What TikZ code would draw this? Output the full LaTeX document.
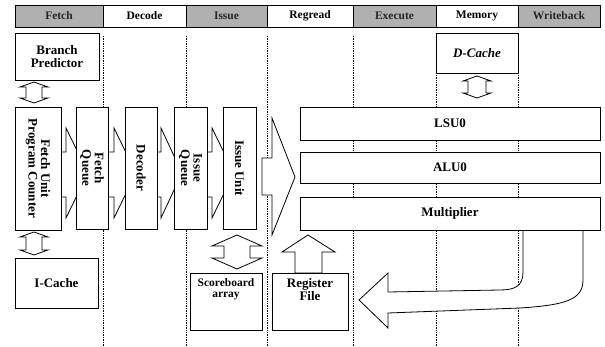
\documentclass[tikz,border=0pt]{standalone}
\usepackage{fontspec}
\setmainfont{Liberation Serif}
\newcommand\vdarrow[6]{\draw[blk] (#1,#2) -- ({#1+#5},{#2+#6}) -- ({#1+#4},{#2+#6}) -- ({#1+#4},{#3-#6}) -- ({#1+#5},{#3-#6}) -- (#1,#3) -- ({#1-#5},{#3-#6}) -- ({#1-#4},{#3-#6}) -- ({#1-#4},{#2+#6}) -- ({#1-#5},{#2+#6}) -- cycle;}
\newcommand\chevron[3]{\draw[blk] (#1,152) -- (#2,152) -- (#2,128) -- (#3,173) -- (#2,218) -- (#2,197) -- (#1,197) -- cycle;}
\begin{document}
\begin{tikzpicture}[x=1pt,y=-1pt,
 box/.style={draw, fill=white, line width=0.9pt, inner sep=1pt},
 txt/.style={inner sep=1pt, align=center, font=\fontsize{13}{12.5}\selectfont\bfseries},
 hcell/.style={draw, line width=0.8pt, minimum height=22pt, inner sep=0, font=\fontsize{11.5}{12}\selectfont\bfseries},
 hgray/.style={hcell, fill=gray!62, text=black!85},
 hwhite/.style={hcell, fill=white},
 vline/.style={densely dotted, line width=0.7pt},
 blk/.style={draw, fill=white, line width=0.8pt, line join=miter}
]
\useasboundingbox (0,0) rectangle (605,347);

% header
\node[hgray, minimum width=88pt] (hfetch) at (59,16) {Fetch};
\node[hwhite, minimum width=83pt] (hdecode) at (144.5,16) {Decode};
\node[hgray, minimum width=81pt] (hissue) at (226.5,16) {Issue};
\node[hwhite, minimum width=86pt] (hregread) at (310,16) {Regread};
\node[hgray, minimum width=83pt] (hexec) at (394.5,16) {Execute};
\node[hwhite, minimum width=82pt] (hmem) at (477,16) {Memory};
\node[hgray, minimum width=82pt] (hwb) at (559,16) {Writeback};

% stage boundaries
\foreach \x in {103,186,267,353,436,518} \draw[vline] (\x,36) -- (\x,347);

% block arrows
\chevron{61}{66}{88}
\chevron{108}{114}{136}
\chevron{157}{161}{182}
\chevron{207}{212}{234}
\draw[blk] (262,158) -- (272,158) -- (272,118) -- (295,177) -- (272,235) -- (272,195) -- (262,195) -- cycle;

\vdarrow{34}{82}{103}{8}{14}{5}
\vdarrow{34}{232}{255}{8}{14}{5}
\vdarrow{477}{76}{98}{9}{14}{5}
\vdarrow{237}{235}{269}{13}{25}{11}
\draw[blk] (308,235) -- (335,252) -- (322,252) -- (322,273) -- (295,273) -- (295,252) -- (282,252) -- cycle;

\draw[line width=0.8pt, fill=white] (523,230) -- (523,272) .. controls (523,286) and (515,290) .. (500,290) -- (388,292) -- (388,273) -- (359,300) -- (388,328) -- (388,313) -- (520,308) .. controls (565,305) and (583,300) .. (583,280) -- (583,230);

% boxes
\node[box, txt, minimum width=84pt, minimum height=47pt] (bp) at (57,56.5) {Branch\\Predictor};
\node[box, txt, minimum width=82pt, minimum height=40pt] (dc) at (477,53) {\itshape D-Cache};

\node[box, minimum width=46pt, minimum height=123pt] (fu) at (38,168.5) {};
\node[txt, rotate=-90] (fut) at (fu.center) {Fetch Unit\\Program Counter};
\node[box, minimum width=32pt, minimum height=122pt] (fq) at (92,168) {};
\node[txt, rotate=-90] (fqt) at (fq.center) {Fetch\\Queue};
\node[box, minimum width=32pt, minimum height=122pt] (dec) at (141,168) {};
\node[txt, rotate=-90] (dect) at (dec.center) {Decoder};
\node[box, minimum width=33pt, minimum height=122pt] (iq) at (190.5,168) {};
\node[txt, rotate=-90] (iqt) at (iq.center) {Issue\\Queue};
\node[box, minimum width=33pt, minimum height=122pt] (iu) at (239.5,168) {};
\node[txt, rotate=-90] (iut) at (iu.center) {Issue Unit};

\node[box, txt, minimum width=300pt, minimum height=33pt] (lsu) at (450,123.5) {LSU0};
\node[box, txt, minimum width=300pt, minimum height=31pt] (alu) at (450,167.5) {ALU0};
\node[box, txt, minimum width=300pt, minimum height=33pt] (mul) at (450,213.5) {Multiplier};

\node[box, txt, minimum width=83pt, minimum height=50pt] (ic) at (56.5,283) {I-Cache};
\node[box, minimum width=72pt, minimum height=57pt] (sb) at (226,301.5) {};
\node[txt, anchor=north, font=\fontsize{11.5}{11}\selectfont\bfseries] (sbt) at ([yshift=-5pt]sb.north) {Scoreboard\\array};
\node[box, minimum width=76pt, minimum height=57pt] (rf) at (310,301.5) {};
\node[txt, anchor=north] (rft) at ([yshift=-5pt]rf.north) {Register\\File};
\end{tikzpicture}
\end{document}
